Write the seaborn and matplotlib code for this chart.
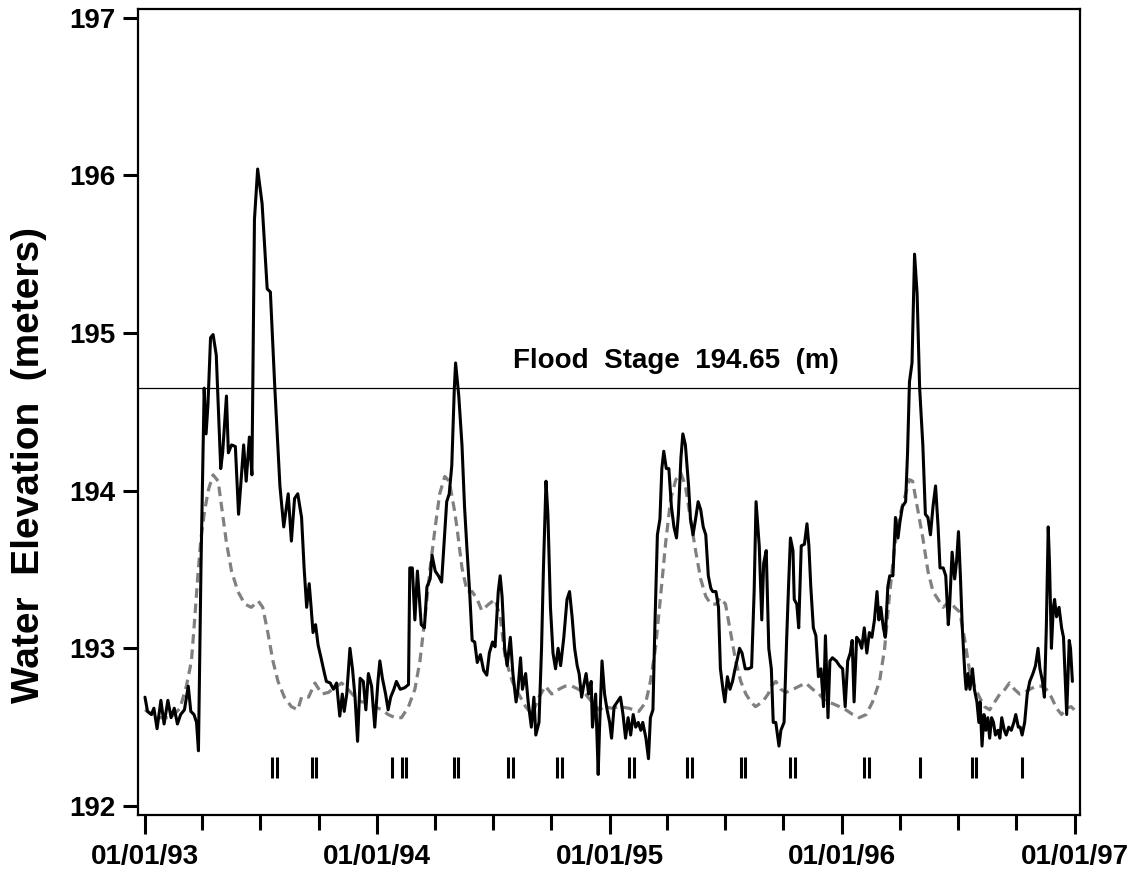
import numpy as np
import pandas as pd
import matplotlib
matplotlib.use("Agg")
import matplotlib.pyplot as plt
import matplotlib.dates as mdates
import seaborn as sns

# Observed daily water elevation (days since 01/01/93, metres)
obs_day = [0, 4, 10, 14, 19, 25, 30, 36, 41, 46, 51, 56, 62, 68, 72, 77, 81, 84,
           88, 93, 96, 99, 103, 107, 112, 119, 122, 128, 131, 136, 142, 147, 150, 155,
           159, 164, 168, 172, 177, 184, 192, 197, 204, 212, 218, 225, 230, 235, 240,
           246, 250, 254, 258, 261, 264, 268, 272, 276, 282, 285, 291, 296, 301, 306,
           310, 313, 317, 322, 326, 330, 334, 338, 343, 347, 351, 356, 361, 366, 369,
           373, 378, 382, 386, 391, 395, 401, 408, 414, 416, 420, 424, 428, 434, 439,
           443, 448, 451, 456, 461, 466, 470, 474, 478, 482, 486, 488, 493, 498, 502,
           506, 510, 514, 518, 522, 527, 532, 537, 541, 546, 550, 555, 558, 561, 565,
           569, 574, 578, 583, 586, 590, 593, 598, 602, 607, 611, 614, 619, 623, 626,
           630, 633, 637, 641, 645, 649, 653, 658, 663, 667, 671, 675, 679, 682, 686,
           689, 693, 697, 701, 703, 708, 712, 714, 718, 722, 726, 730, 733, 737, 742,
           747, 751, 755, 759, 763, 767, 771, 775, 779, 782, 787, 791, 794, 798, 801,
           805, 809, 812, 815, 819, 823, 827, 831, 835, 838, 842, 845, 849, 854, 857,
           861, 865, 869, 873, 877, 881, 885, 889, 892, 897, 901, 904, 908, 911, 915,
           919, 923, 927, 931, 934, 938, 943, 948, 953, 957, 960, 965, 969, 972, 976,
           980, 984, 987, 991, 996, 999, 1004, 1008, 1011, 1014, 1018, 1020, 1024, 1027,
           1031, 1036, 1040, 1043, 1046, 1050, 1054, 1058, 1062, 1066, 1069, 1073, 1076,
           1080, 1086, 1091, 1096, 1100, 1104, 1108, 1111, 1114, 1118, 1122, 1126, 1130,
           1134, 1138, 1142, 1146, 1150, 1153, 1156, 1160, 1163, 1167, 1170, 1175, 1179,
           1183, 1186, 1190, 1195, 1198, 1201, 1205, 1209, 1213, 1217, 1222, 1226, 1230,
           1234, 1238, 1242, 1246, 1249, 1254, 1258, 1262, 1264, 1268, 1272, 1275, 1278,
           1281, 1284, 1288, 1290, 1293, 1296, 1300, 1303, 1307, 1310, 1312, 1315, 1318,
           1321, 1324, 1327, 1330, 1333, 1336, 1340, 1343, 1346, 1350, 1353, 1357, 1361,
           1365, 1368, 1372, 1375, 1378, 1382, 1386, 1390, 1395, 1399, 1403, 1406, 1410,
           1413, 1416, 1419, 1421, 1424, 1427, 1429, 1432, 1436, 1440, 1443, 1448, 1452,
           1454, 1457]
obs_elev = [192.69, 192.60, 192.58, 192.62, 192.49, 192.67, 192.52, 192.67, 192.56, 192.62,
            192.52, 192.58, 192.61, 192.76, 192.60, 192.58, 192.53, 192.35, 193.52, 194.65,
            194.36, 194.55, 194.97, 194.99, 194.86, 194.14, 194.24, 194.60, 194.24, 194.29,
            194.28, 193.85, 194.01, 194.29, 194.06, 194.34, 194.10, 195.72, 196.04, 195.82,
            195.28, 195.26, 194.65, 194.03, 193.77, 193.98, 193.68, 193.95, 193.98, 193.83,
            193.51, 193.26, 193.41, 193.26, 193.10, 193.15, 193.02, 192.95, 192.84, 192.79,
            192.78, 192.74, 192.78, 192.57, 192.71, 192.60, 192.71, 193.00, 192.87, 192.69,
            192.41, 192.81, 192.79, 192.61, 192.84, 192.76, 192.50, 192.79, 192.92, 192.81,
            192.71, 192.61, 192.69, 192.74, 192.79, 192.74, 192.75, 192.77, 193.51, 193.51,
            193.18, 193.49, 193.15, 193.13, 193.39, 193.44, 193.59, 193.49, 193.46, 193.42,
            193.67, 193.93, 193.98, 194.16, 194.65, 194.81, 194.60, 194.29, 193.90, 193.62,
            193.36, 193.05, 193.04, 192.91, 192.96, 192.86, 192.83, 192.97, 193.04, 193.01,
            193.36, 193.46, 193.33, 193.00, 192.89, 193.07, 192.84, 192.66, 192.74, 192.94,
            192.74, 192.84, 192.66, 192.50, 192.69, 192.45, 192.53, 193.00, 193.51, 194.06,
            193.85, 193.26, 192.97, 192.87, 193.00, 192.89, 193.07, 193.31, 193.36, 193.20,
            193.00, 192.89, 192.84, 192.69, 192.76, 192.84, 192.71, 192.79, 192.50, 192.71,
            192.20, 192.48, 192.92, 192.71, 192.61, 192.53, 192.43, 192.63, 192.66, 192.69,
            192.58, 192.43, 192.56, 192.45, 192.58, 192.50, 192.53, 192.48, 192.53, 192.43,
            192.30, 192.56, 192.61, 193.13, 193.72, 193.82, 194.14, 194.25, 194.14, 194.14,
            193.90, 193.77, 193.70, 193.85, 194.21, 194.36, 194.29, 194.03, 193.82, 193.72,
            193.82, 193.93, 193.88, 193.77, 193.72, 193.46, 193.38, 193.36, 193.36, 193.26,
            192.87, 192.74, 192.66, 192.82, 192.74, 192.79, 192.87, 192.94, 193.00, 192.97,
            192.87, 192.87, 192.88, 193.36, 193.93, 193.65, 193.18, 193.54, 193.62, 193.00,
            192.87, 192.53, 192.53, 192.38, 192.48, 192.53, 193.05, 193.39, 193.70, 193.62,
            193.31, 193.28, 193.13, 193.65, 193.66, 193.79, 193.65, 193.39, 193.13, 193.08,
            192.82, 192.87, 192.63, 193.08, 192.56, 192.92, 192.94, 192.92, 192.89, 192.87,
            192.63, 192.92, 192.97, 193.05, 192.66, 193.07, 193.05, 193.00, 193.13, 192.97,
            193.10, 193.07, 193.18, 193.36, 193.18, 193.26, 193.13, 193.07, 193.39, 193.46,
            193.46, 193.83, 193.70, 193.80, 193.90, 193.93, 194.24, 194.69, 194.81, 195.50,
            195.25, 194.65, 194.29, 193.85, 193.83, 193.72, 193.90, 194.03, 193.77, 193.51,
            193.51, 193.46, 193.15, 193.26, 193.61, 193.44, 193.55, 193.74, 193.46, 193.13,
            192.84, 192.74, 192.84, 192.74, 192.87, 192.74, 192.66, 192.53, 192.66, 192.38,
            192.58, 192.48, 192.56, 192.43, 192.56, 192.53, 192.45, 192.48, 192.43, 192.56,
            192.48, 192.45, 192.50, 192.48, 192.53, 192.58, 192.50, 192.50, 192.45, 192.53,
            192.71, 192.79, 192.84, 192.89, 193.00, 192.87, 192.79, 192.69, 193.13, 193.77,
            193.54, 193.00, 193.26, 193.31, 193.20, 193.26, 193.13, 193.07, 192.58, 193.05,
            193.00, 192.79]

# Long-term mean daily elevation (dashed grey)
mean_day = [0, 20, 41, 55, 65, 73, 78, 83, 88, 94, 100, 107, 115, 121, 128, 136, 146, 157,
            167, 178, 185, 193, 201, 209, 219, 230, 240, 246, 257, 267, 278, 288, 298, 309,
            319, 330, 340, 351, 361, 372, 382, 393, 403, 414, 424, 432, 440, 448, 456, 463,
            471, 478, 486, 490, 498, 506, 514, 522, 529, 540, 550, 558, 566, 577, 587, 598,
            608, 619, 629, 639, 650, 660, 671, 681, 692, 702, 713, 723, 733, 745, 760, 776,
            787, 794, 802, 810, 818, 826, 834, 842, 849, 857, 865, 873, 881, 889, 897, 904,
            912, 920, 928, 936, 944, 952, 959, 970, 979, 984, 991, 999, 1007, 1018, 1028,
            1038, 1049, 1059, 1070, 1080, 1091, 1101, 1112, 1122, 1133, 1143, 1154, 1162,
            1169, 1177, 1185, 1193, 1201, 1206, 1214, 1222, 1230, 1238, 1246, 1254, 1264,
            1272, 1280, 1288, 1296, 1303, 1311, 1319, 1327, 1335, 1343, 1351, 1358, 1366,
            1374, 1382, 1390, 1400, 1408, 1416, 1424, 1432, 1440, 1448, 1455, 1460]
mean_elev = [192.61, 192.56, 192.56, 192.62, 192.76, 192.92, 193.18, 193.46, 193.70, 193.88,
             194.01, 194.10, 194.06, 193.88, 193.67, 193.49, 193.36, 193.28, 193.26, 193.30,
             193.26, 193.10, 192.92, 192.79, 192.69, 192.63, 192.61, 192.69, 192.69, 192.78,
             192.71, 192.72, 192.75, 192.78, 192.74, 192.69, 192.66, 192.66, 192.63, 192.61,
             192.58, 192.56, 192.56, 192.63, 192.74, 192.92, 193.20, 193.51, 193.77, 193.98,
             194.09, 194.06, 193.88, 193.77, 193.51, 193.36, 193.36, 193.31, 193.24, 193.28,
             193.31, 193.20, 192.94, 192.79, 192.71, 192.63, 192.58, 192.69, 192.76, 192.71,
             192.74, 192.76, 192.76, 192.74, 192.71, 192.66, 192.61, 192.63, 192.62, 192.63,
             192.62, 192.60, 192.66, 192.79, 193.00, 193.33, 193.67, 193.95, 194.07, 194.11,
             194.03, 193.82, 193.62, 193.44, 193.33, 193.28, 193.28, 193.32, 193.28, 193.10,
             192.92, 192.79, 192.71, 192.66, 192.63, 192.66, 192.71, 192.76, 192.79, 192.74,
             192.72, 192.74, 192.76, 192.78, 192.74, 192.71, 192.66, 192.65, 192.63, 192.61,
             192.58, 192.56, 192.58, 192.66, 192.79, 193.00, 193.31, 193.62, 193.83, 193.95,
             194.07, 194.06, 193.88, 193.70, 193.49, 193.36, 193.31, 193.26, 193.30, 193.26,
             193.23, 193.05, 192.84, 192.76, 192.69, 192.63, 192.61, 192.66, 192.71, 192.74,
             192.78, 192.74, 192.71, 192.72, 192.74, 192.76, 192.76, 192.74, 192.69, 192.62,
             192.58, 192.62, 192.63, 192.61]

# Sampling dates shown as tick marks near the bottom
rug_day = [200, 207, 263, 269, 388, 403, 410, 486, 491, 571, 578, 647, 655, 761, 769,
           852, 859, 937, 943, 1014, 1021, 1130, 1137, 1217, 1300, 1305, 1378]

flood_stage = 194.65
start = pd.Timestamp("1993-01-01")

obs = pd.DataFrame({"date": start + pd.to_timedelta(obs_day, unit="D"), "elev": obs_elev})
avg = pd.DataFrame({"date": start + pd.to_timedelta(mean_day, unit="D"), "elev": mean_elev})
rug_dates = start + pd.to_timedelta(rug_day, unit="D")

sns.set_style("ticks")
plt.rcParams["font.family"] = ["Liberation Sans", "DejaVu Sans"]
plt.rcParams["font.weight"] = "bold"
for key in ["text.color", "axes.labelcolor", "xtick.color", "ytick.color", "axes.edgecolor"]:
    plt.rcParams[key] = "black"

fig = plt.figure(figsize=(11.3, 8.8), dpi=100)
ax = fig.add_axes([0.1221, 0.0739, 0.8337, 0.9159])

sns.lineplot(data=avg, x="date", y="elev", ax=ax, color="#808080", lw=2.3,
             linestyle=(0, (3.0, 1.8)), estimator=None)
sns.lineplot(data=obs, x="date", y="elev", ax=ax, color="black", lw=2.2, estimator=None)
ax.axhline(flood_stage, color="black", lw=0.9)
ax.vlines(rug_dates, 192.18, 192.31, color="black", lw=2.2)

ax.text(start + pd.Timedelta(days=834), 194.82, "Flood  Stage  194.65  (m)",
        ha="center", va="center", fontsize=20, fontweight="bold")

ax.set_xlim(start - pd.Timedelta(days=11), pd.Timestamp("1997-01-09"))
ax.set_ylim(191.943, 197.055)
ax.set_yticks([192, 193, 194, 195, 196, 197])
ax.xaxis.set_major_locator(mdates.YearLocator())
ax.xaxis.set_major_formatter(mdates.DateFormatter("%m/%d/%y"))
ax.xaxis.set_minor_locator(mdates.MonthLocator(bymonth=[4, 7, 10]))

ax.tick_params(axis="both", which="major", labelsize=20, width=2.2, direction="out")
ax.tick_params(axis="x", which="major", length=14, pad=7)
ax.tick_params(axis="x", which="minor", length=10.5, width=2.2)
ax.tick_params(axis="y", which="major", length=11, pad=5)
for lab in ax.get_xticklabels() + ax.get_yticklabels():
    lab.set_fontweight("bold")

for side in ["left", "right", "top", "bottom"]:
    ax.spines[side].set_visible(True)
    ax.spines[side].set_linewidth(1.6)
    ax.spines[side].set_color("black")

ax.set_xlabel("")
ax.set_ylabel("Water  Elevation  (meters)", fontsize=28, fontweight="bold")
ax.yaxis.set_label_coords(-0.097, 0.434)

fig.savefig("out.png", dpi=100)
